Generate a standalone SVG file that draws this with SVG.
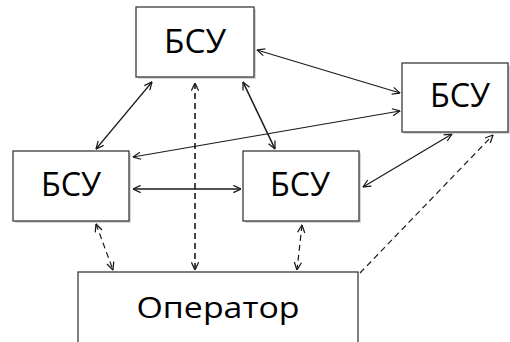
<svg xmlns="http://www.w3.org/2000/svg" width="510" height="342" viewBox="0 0 510 342">
<defs>
<style>
.box{fill:#fff;stroke:#3a3a3a;stroke-width:1.3}
.shadow{fill:#bdbdbd;opacity:0.6}
.lbl{font-family:"Open Sans","Liberation Sans",sans-serif;font-size:32px;fill:#000;text-anchor:middle}
.op{font-size:30px}
.ln{fill:none;stroke:#1a1a1a;stroke-width:1.2;marker-start:url(#ah);marker-end:url(#ah)}
.thick{stroke-width:1.6}
.dash{stroke-dasharray:6 4}
</style>
<marker id="ah" viewBox="0 0 10 10" refX="9.5" refY="5" markerWidth="9" markerHeight="9" markerUnits="userSpaceOnUse" orient="auto-start-reverse">
<path d="M1,1 L9.5,5 L1,9" fill="none" stroke="#1a1a1a" stroke-width="1.4"/>
</marker>
</defs>
<rect width="510" height="342" fill="#fff"/>
<g id="connectors">
<line class="ln" x1="257" y1="50" x2="400" y2="93"/>
<line class="ln" x1="133" y1="157" x2="400" y2="111"/>
<line class="ln" x1="152" y1="82" x2="96" y2="149"/>
<line class="ln thick" x1="243" y1="82" x2="275" y2="149"/>
<line class="ln thick" x1="133" y1="189" x2="241" y2="189"/>
<line class="ln" x1="363" y1="187" x2="452" y2="134"/>
<line class="ln thick dash" x1="195" y1="83" x2="195" y2="270"/>
<line class="ln dash" x1="96" y1="224" x2="113" y2="270"/>
<line class="ln dash" x1="302" y1="225" x2="297" y2="270"/>
<line class="ln dash" x1="360" y1="273" x2="493" y2="135" style="marker-start:none"/>
</g>
<g id="node-top">
<rect class="shadow" x="138" y="9" width="118" height="70"/>
<rect class="box" x="136" y="7" width="118" height="70"/>
<text class="lbl" x="195" y="53" textLength="62" lengthAdjust="spacingAndGlyphs">БСУ</text>
</g>
<g id="node-right">
<rect class="shadow" x="404" y="65" width="106" height="69"/>
<rect class="box" x="402" y="63" width="106" height="69"/>
<text class="lbl" x="460" y="107" textLength="60" lengthAdjust="spacingAndGlyphs">БСУ</text>
</g>
<g id="node-left">
<rect class="shadow" x="15" y="153" width="116" height="70"/>
<rect class="box" x="13" y="151" width="116" height="70"/>
<text class="lbl" x="71" y="196" textLength="60" lengthAdjust="spacingAndGlyphs">БСУ</text>
</g>
<g id="node-middle">
<rect class="shadow" x="245" y="153" width="116" height="70"/>
<rect class="box" x="243" y="151" width="116" height="70"/>
<text class="lbl" x="300" y="196" textLength="60" lengthAdjust="spacingAndGlyphs">БСУ</text>
</g>
<g id="node-operator">
<rect class="box" x="78" y="272" width="280" height="80"/>
<text class="lbl op" x="218" y="318" textLength="163" lengthAdjust="spacingAndGlyphs">Оператор</text>
</g>
</svg>
